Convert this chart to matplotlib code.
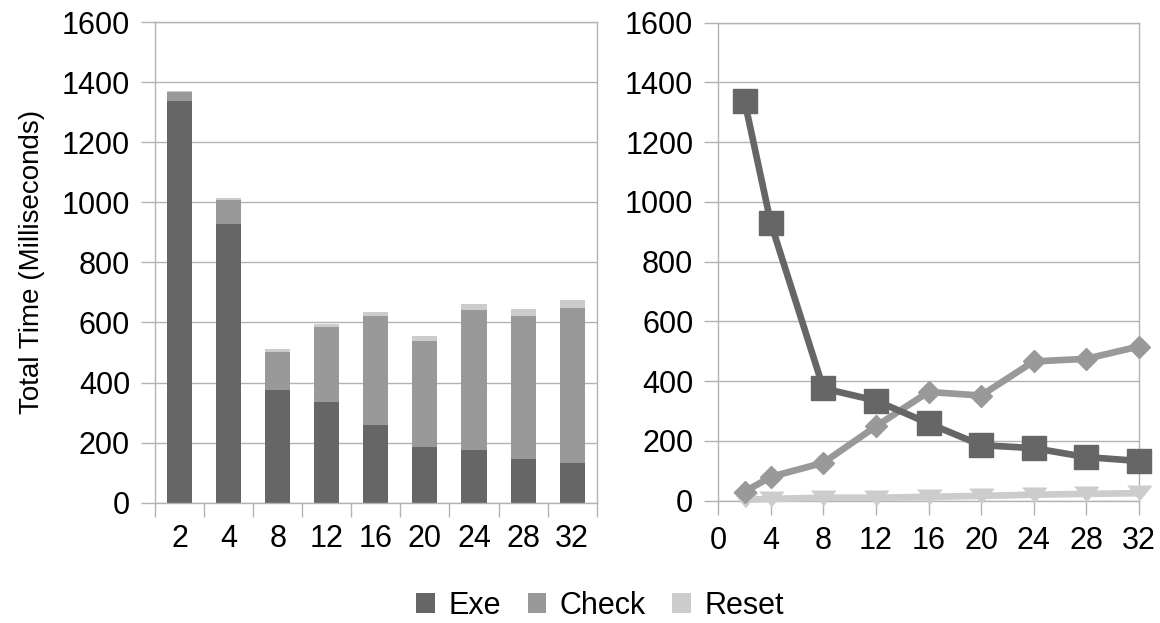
import matplotlib
matplotlib.use("Agg")
import matplotlib.pyplot as plt
import numpy as np
from matplotlib.patches import Patch

plt.rcParams['font.family'] = ['Liberation Sans', 'DejaVu Sans']

categories = ['2', '4', '8', '12', '16', '20', '24', '28', '32']
threads = [2, 4, 8, 12, 16, 20, 24, 28, 32]
exe = [1338, 929, 376, 335, 259, 186, 176, 146, 133]
check = [30, 80, 127, 249, 364, 352, 466, 475, 516]
reset = [3, 6, 10, 10, 13, 16, 20, 23, 25]

series_names = ['Exe', 'Check', 'Reset']
colors = ['#666666', '#999999', '#cccccc']
grid_c = '#b3b3b3'

W, H = 1160, 623
fig = plt.figure(figsize=(W / 100, H / 100), dpi=100)

axL = fig.add_axes([155 / W, (H - 502.7) / H, 441.7 / W, 480.7 / H])
axR = fig.add_axes([718.3 / W, (H - 500.7) / H, 420.4 / W, 478 / H])

fs = 22

def style(ax):
    ax.set_ylim(0, 1600)
    ax.set_yticks(np.arange(0, 1601, 200))
    ax.yaxis.grid(True, color=grid_c, linewidth=1.0)
    ax.set_axisbelow(True)
    for s in ax.spines.values():
        s.set_color(grid_c)
        s.set_linewidth(1.0)
    ax.tick_params(axis='y', which='major', direction='out', length=10, width=1.0,
                   color=grid_c, labelsize=fs, pad=8)
    ax.tick_params(axis='x', which='major', direction='out', length=10, width=1.0,
                   color=grid_c, labelsize=fs, pad=8)

# Left: stacked bars
x = np.arange(len(categories))
style(axL)
bw = 0.51
b1 = np.array(exe)
b2 = b1 + np.array(check)
axL.bar(x, exe, width=bw, color=colors[0], zorder=2)
axL.bar(x, check, width=bw, bottom=b1, color=colors[1], zorder=2)
axL.bar(x, reset, width=bw, bottom=b2, color=colors[2], zorder=2)
axL.set_xlim(-0.5, len(categories) - 0.5)
axL.set_xticks(np.arange(-0.5, len(categories), 1))
axL.set_xticklabels([''] * (len(categories) + 1))
axL.set_xticks(x, minor=True)
axL.set_xticklabels(categories, minor=True)
axL.tick_params(axis='x', which='minor', length=0, labelsize=fs, pad=15.5)
axL.set_ylabel('Total Time (Milliseconds)', fontsize=20, labelpad=12)

# Right: lines
style(axR)
axR.set_xlim(0, 32)
axR.set_xticks(np.arange(0, 33, 4))
tri = [(-1, 0.62), (1, 0.62), (0, -0.62)]
axR.plot(threads, reset, color=colors[2], lw=4.8, marker=tri, ms=17,
         clip_on=False, zorder=3)
axR.plot(threads, check, color=colors[1], lw=4.8, marker='D', ms=11,
         clip_on=False, zorder=4)
axR.plot(threads, exe, color=colors[0], lw=4.8, marker='s', ms=17,
         clip_on=False, zorder=5)

handles = [Patch(facecolor=c, edgecolor='none') for c in colors]
fig.legend(handles, series_names, loc='center', bbox_to_anchor=(600 / W, (H - 606) / H),
           ncol=3, frameon=False, fontsize=fs, handlelength=0.62, handleheight=0.62,
           handletextpad=0.42, columnspacing=0.88, borderpad=0)

fig.savefig('out.png', dpi=100)
